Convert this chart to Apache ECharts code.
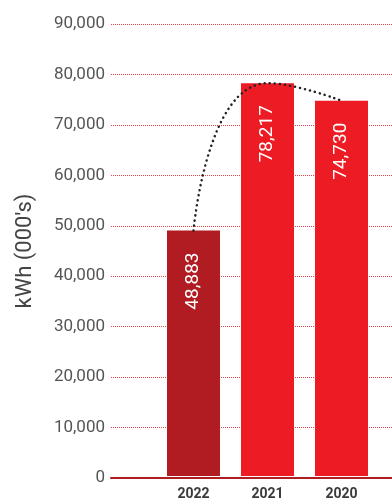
<!DOCTYPE html>
<html>
<head>
<meta charset="utf-8">
<script src="https://cdn.jsdelivr.net/npm/echarts@6/dist/echarts.min.js"></script>
<style>html,body{margin:0;padding:0;background:#fff;}#c{width:392px;height:501px;}</style>
</head>
<body>
<div id="c"></div>
<script>
const categories = ['2022', '2021', '2020'];
const values = [48883, 78217, 74730];
const barColors = ['#b01c22', '#ed1c24', '#ed1c24'];
const yMin = 0, yMax = 90000, yInterval = 10000;
const yTitle = "kWh (000's)";

const chart = echarts.init(document.getElementById('c'), null, {renderer: 'canvas'});
chart.setOption({
  animation: false,
  grid: [
    {left: 111, right: 0, top: 24, bottom: 23},
    {left: 156.5, right: 13.5, top: 24, bottom: 23}
  ],
  xAxis: [
    {type: 'category', gridIndex: 0, data: [''], axisTick: {show: false}, axisLabel: {show: false},
     axisLine: {lineStyle: {color: '#b01c22', width: 2}}, z: 10},
    {type: 'category', gridIndex: 1, data: categories, axisTick: {show: false},
     axisLine: {show: false},
     axisLabel: {margin: 11, fontFamily: 'Roboto', fontSize: 14, fontWeight: 'bold', color: '#3a3a3a'}}
  ],
  yAxis: [
    {type: 'value', gridIndex: 0, min: yMin, max: yMax, interval: yInterval,
     name: yTitle, nameLocation: 'middle', nameGap: 75,
     nameTextStyle: {fontFamily: 'Roboto', fontSize: 22, color: '#444'},
     axisLine: {show: false}, axisTick: {show: false},
     axisLabel: {margin: 6, fontFamily: 'Roboto', fontSize: 17, color: '#555',
       formatter: v => v.toLocaleString('en-US')},
     splitLine: {lineStyle: {color: '#e8454b', width: 1, type: [1, 1]}}},
    {type: 'value', gridIndex: 1, min: yMin, max: yMax, interval: yInterval, show: false, splitLine: {show: false}}
  ],
  series: [
    {type: 'bar', xAxisIndex: 1, yAxisIndex: 1, barWidth: 53,
     data: values.map((v, i) => ({value: v, itemStyle: {color: barColors[i]}})),
     label: {show: true, position: 'insideTop', rotate: 90, align: 'right', verticalAlign: 'middle',
       distance: 22, color: '#fff', fontFamily: 'Roboto', fontSize: 19,
       formatter: p => p.value.toLocaleString('en-US')}},
    {type: 'line', xAxisIndex: 1, yAxisIndex: 1, data: values, smooth: 0.6, symbol: 'none', z: 5,
     lineStyle: {color: '#222', width: 2.5, type: [0.1, 5], cap: 'round'}}
  ]
});
</script>
</body>
</html>
